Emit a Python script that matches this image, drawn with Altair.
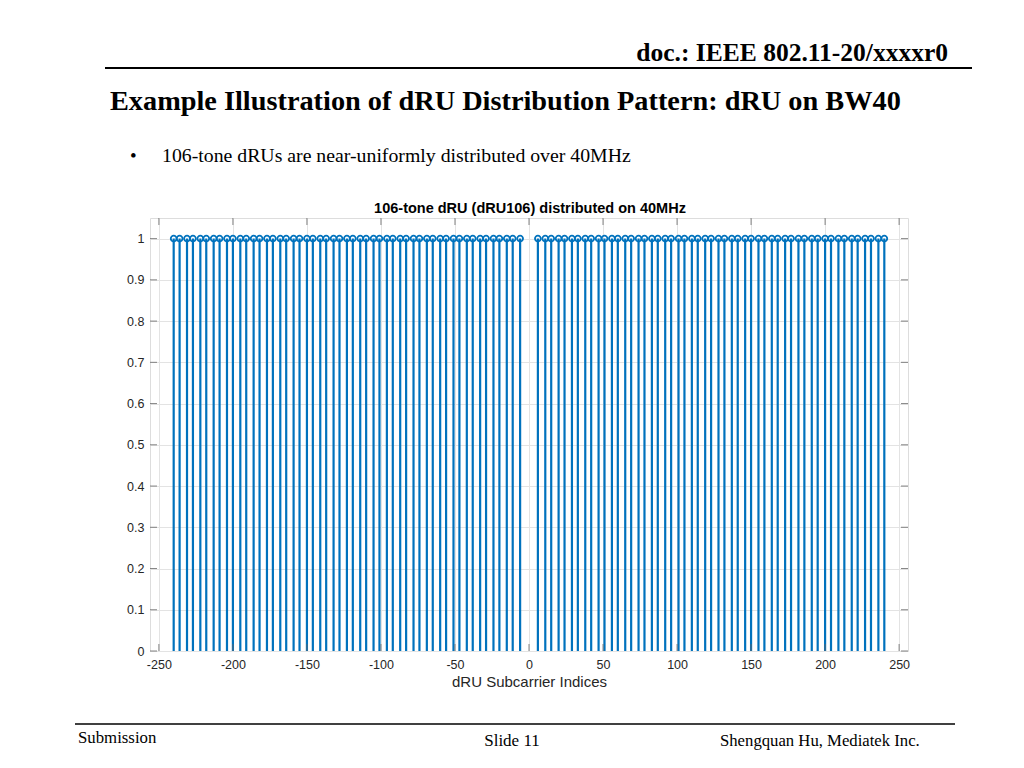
import altair as alt
import pandas as pd

# dRU106 subcarrier indices on 40 MHz
tones_neg = [-240, -236, -231, -227, -222, -218, -213, -209, -204, -200,
             -195, -191, -186, -182, -177, -173, -168, -164, -159, -155,
             -150, -146, -141, -137, -132, -128, -123, -119, -114, -110,
             -105, -101, -96, -92, -87, -83, -78, -74, -69, -65,
             -60, -56, -51, -47, -42, -38, -33, -29, -24, -20,
             -15, -11, -6]
tones_pos = [6, 11, 15, 20, 24, 29, 33, 38, 42, 47,
             51, 56, 60, 65, 69, 74, 78, 83, 87, 92,
             96, 101, 105, 110, 114, 119, 123, 128, 132, 137,
             141, 146, 150, 155, 159, 164, 168, 173, 177, 182,
             186, 191, 195, 200, 204, 209, 213, 218, 222, 227,
             231, 236, 240]
tones = tones_neg + tones_pos
stem_values = [1] * len(tones)

x_ticks = [-250, -200, -150, -100, -50, 0, 50, 100, 150, 200, 250]
y_ticks = [0, 0.1, 0.2, 0.3, 0.4, 0.5, 0.6, 0.7, 0.8, 0.9, 1]

header_text = "doc.: IEEE 802.11-20/xxxxr0"
slide_title = "Example Illustration of dRU Distribution Pattern: dRU on BW40"
bullet_text = "106-tone dRUs are near-uniformly distributed over 40MHz"
chart_title = "106-tone dRU (dRU106) distributed on 40MHz"
x_title = "dRU Subcarrier Indices"
footer_left = "Submission"
footer_mid = "Slide 11"
footer_right = "Shengquan Hu, Mediatek Inc."

W, H = 758, 433
BLUE = "#0072BD"
AX = "#262626"

stem_df = pd.DataFrame({"k": tones, "v": stem_values, "zero": [0] * len(tones)})
xt_df = pd.DataFrame({"k": x_ticks})
yt_df = pd.DataFrame({"v": y_ticks})

xscale = alt.Scale(domain=[-256, 256], nice=False, zero=False)
yscale = alt.Scale(domain=[0, 1.05], nice=False)

xaxis = alt.Axis(values=x_ticks, grid=True, gridColor="#e3e3e3", gridWidth=1,
                 tickSize=0, domain=False, labelFont="Liberation Sans",
                 labelFontSize=12.5, labelColor=AX, labelPadding=7,
                 labelExpr="'' + datum.value", title=x_title,
                 titleFont="Liberation Sans", titleFontSize=15,
                 titleFontWeight="normal", titleColor=AX, titlePadding=4)
yaxis = alt.Axis(values=y_ticks, grid=True, gridColor="#e3e3e3", gridWidth=1,
                 tickSize=0, domain=False, labelFont="Liberation Sans",
                 labelFontSize=12.5, labelColor=AX, labelPadding=6,
                 format="~g", title=None)

stems = alt.Chart(stem_df).mark_rule(color=BLUE, strokeWidth=2.2).encode(
    x=alt.X("k:Q", scale=xscale, axis=xaxis),
    y=alt.Y("zero:Q", scale=yscale, axis=yaxis),
    y2="v:Q",
)
markers = alt.Chart(stem_df).mark_point(
    shape="circle", filled=False, size=34, strokeWidth=1.8, color=BLUE, opacity=1
).encode(
    x=alt.X("k:Q", scale=xscale, axis=xaxis),
    y=alt.Y("v:Q", scale=yscale, axis=yaxis),
)

TICK = "#666666"
xt_bottom = alt.Chart(xt_df).mark_rule(color=TICK, strokeWidth=0.8).encode(
    x=alt.X("k:Q", scale=xscale, axis=xaxis), y=alt.value(H), y2=alt.value(H - 7))
xt_top = alt.Chart(xt_df).mark_rule(color=TICK, strokeWidth=0.8).encode(
    x=alt.X("k:Q", scale=xscale, axis=xaxis), y=alt.value(0), y2=alt.value(7))
yt_left = alt.Chart(yt_df).mark_rule(color=TICK, strokeWidth=0.8).encode(
    y=alt.Y("v:Q", scale=yscale, axis=yaxis), x=alt.value(0), x2=alt.value(7))
yt_right = alt.Chart(yt_df).mark_rule(color=TICK, strokeWidth=0.8).encode(
    y=alt.Y("v:Q", scale=yscale, axis=yaxis), x=alt.value(W), x2=alt.value(W - 7))


def text_layer(txt, x, y, size, weight="normal", align="left", font="Liberation Serif"):
    return alt.Chart(pd.DataFrame({"t": [txt]})).mark_text(
        font=font, fontSize=size, fontWeight=weight, align=align,
        baseline="alphabetic", color="black"
    ).encode(text="t:N", x=alt.value(x), y=alt.value(y))


def line_layer(x1, x2, y, w):
    return alt.Chart(pd.DataFrame({"a": [0]})).mark_rule(color="black", strokeWidth=w).encode(
        x=alt.value(x1), x2=alt.value(x2), y=alt.value(y))


slide = [
    text_layer(header_text, 798, -157, 25.5, "bold", "right"),
    line_layer(-45, 822, -150, 2),
    text_layer(slide_title, -40, -108, 28.3, "bold"),
    text_layer("\u2022", -20, -56, 19),
    text_layer(bullet_text, 12, -56, 19.8),
    text_layer(chart_title, 380, -5, 14.5, "bold", "center", "Liberation Sans"),
    line_layer(-75, 805, 506, 1.5),
    text_layer(footer_left, -72, 525, 16.8),
    text_layer(footer_mid, 362, 528, 17, align="center"),
    text_layer(footer_right, 570, 528, 16.7),
]

chart = alt.layer(stems, markers, xt_bottom, xt_top, yt_left, yt_right, *slide).properties(
    width=W, height=H,
    autosize=alt.AutoSizeParams(type="none"),
    padding={"left": 142, "top": 210, "right": 100, "bottom": 100},
).configure_view(stroke="#9a9a9a", strokeWidth=1).configure(background="white")

chart.save("out.html", embed_options={"renderer": "svg", "actions": False})
